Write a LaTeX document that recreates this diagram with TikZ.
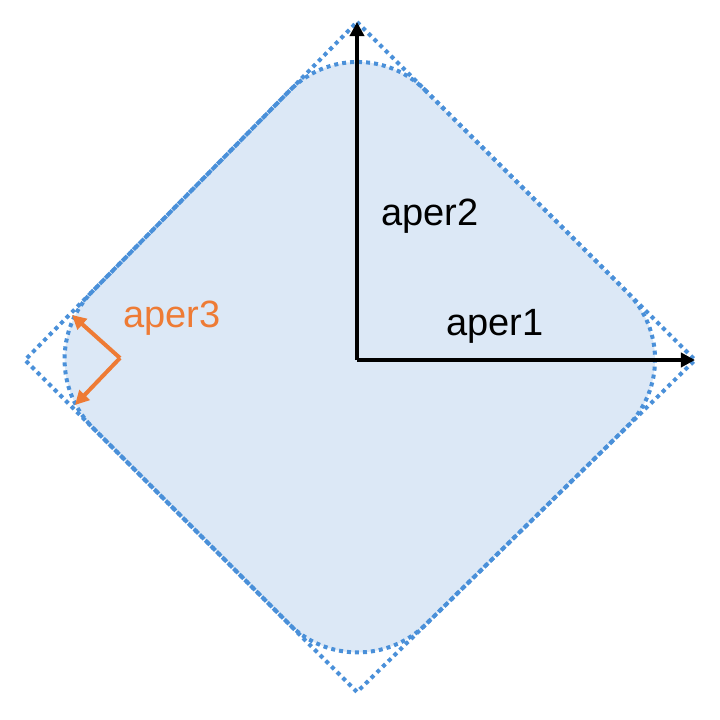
\documentclass[tikz,border=0pt]{standalone}
\usepackage{fontspec}
\setmainfont{Liberation Sans}
\usetikzlibrary{arrows.meta}
\definecolor{fillblue}{HTML}{DCE8F6}
\definecolor{dotblue}{HTML}{4A90D9}
\definecolor{aperorange}{HTML}{EE7B35}
\begin{document}
\begin{tikzpicture}[x=0.5pt,y=-0.5pt]
\tikzstyle{outline}=[dotblue, line width=2pt, dash pattern=on 2pt off 2pt]
\tikzstyle{axis}=[line width=2pt, -{Triangle[length=7pt,width=7pt]}]
\tikzstyle{label}=[font=\fontsize{19}{22}\selectfont, inner sep=0pt]

\useasboundingbox (0,0) rectangle (720,720);

% rounded aperture
\draw[outline, fill=fillblue, rounded corners=48pt]
    (357,22) -- (695,360) -- (357,692) -- (25,360) -- cycle;
% sharp aperture
\draw[outline] (357,22) -- (695,360) -- (357,692) -- (25,360) -- cycle;

\coordinate (O) at (357,360);
\coordinate (X) at (695,360);
\coordinate (Y) at (357,22);
\coordinate (C) at (120,358);
\coordinate (Cu) at (72,315);
\coordinate (Cd) at (75,405);

\draw[axis] (O) -- (X);
\draw[axis] (O) -- (Y);
\draw[axis, aperorange] (C) -- (Cu);
\draw[axis, aperorange] (C) -- (Cd);

\node[label] (a1) at (495,326) {aper1};
\node[label] (a2) at (430,216) {aper2};
\node[label, text=aperorange] (a3) at (172,318) {aper3};
\end{tikzpicture}
\end{document}
